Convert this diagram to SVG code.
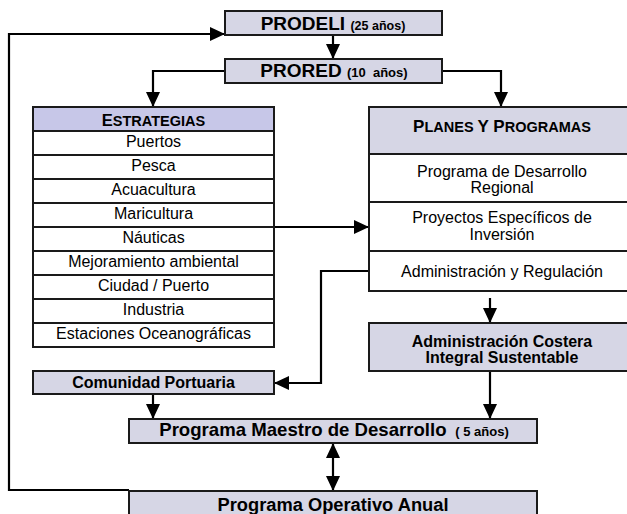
<svg xmlns="http://www.w3.org/2000/svg" width="627" height="514" viewBox="0 0 627 514">
<defs>
<marker id="ah" markerUnits="userSpaceOnUse" markerWidth="15" markerHeight="15" viewBox="0 0 15 14" refX="15" refY="7" orient="auto-start-reverse">
<path d="M0,0 L15,7 L0,14 Z" fill="#000"/>
</marker>
</defs>
<style>
.box{fill:#d6d6e5;stroke:#1a1a1a;stroke-width:2}
.hdr{fill:#c7c7e8;stroke:#1a1a1a;stroke-width:2}
.row{fill:#fff;stroke:#1a1a1a;stroke-width:2}
.wl{fill:none;stroke:#1a1a1a;stroke-width:2}
.t{font-family:"Liberation Sans",Arial,sans-serif;font-size:16px;fill:#000;text-anchor:middle}
.b{font-family:"Liberation Sans",Arial,sans-serif;font-weight:bold;fill:#000;text-anchor:middle}
.c{fill:none;stroke:#000;stroke-width:2.2}
</style>
<rect width="627" height="514" fill="#fff"/>

<g id="connectors">
<path class="c" d="M333,35 V59" marker-end="url(#ah)"/>
<path class="c" d="M129,490 H9 V34 H225" marker-end="url(#ah)"/>
<path class="c" d="M225,71 H153 V107" marker-end="url(#ah)"/>
<path class="c" d="M442,71 H501 V107" marker-end="url(#ah)"/>
<path class="c" d="M273,227 H369" marker-end="url(#ah)"/>
<path class="c" d="M369,271 H321 V383 H274" marker-end="url(#ah)"/>
<path class="c" d="M490,298 V323" marker-end="url(#ah)"/>
<path class="c" d="M153,394 V419" marker-end="url(#ah)"/>
<path class="c" d="M490,371 V419" marker-end="url(#ah)"/>
<path class="c" d="M333,443 V491" marker-start="url(#ah)" marker-end="url(#ah)"/>
</g>

<g id="prodeli">
<rect class="box" x="225" y="11" width="217" height="24"/>
<text class="b" x="333" y="30"><tspan font-size="19">PRODELI </tspan><tspan font-size="12.5">(25 años)</tspan></text>
</g>

<g id="prored">
<rect class="box" x="225" y="59" width="217" height="24"/>
<text class="b" x="334" y="77"><tspan font-size="19">PRORED </tspan><tspan font-size="13" xml:space="preserve">(10  años)</tspan></text>
</g>

<g id="estrategias">
<rect class="hdr" x="33" y="107" width="241" height="24"/>
<text class="b" x="153.5" y="126"><tspan font-size="16.5">E</tspan><tspan font-size="14.5">STRATEGIAS</tspan></text>
<rect class="row" x="33" y="131" width="241" height="24"/>
<text class="t" x="153.5" y="146.7">Puertos</text>
<rect class="row" x="33" y="155" width="241" height="24"/>
<text class="t" x="153.5" y="170.7">Pesca</text>
<rect class="row" x="33" y="179" width="241" height="24"/>
<text class="t" x="153.5" y="194.7">Acuacultura</text>
<rect class="row" x="33" y="203" width="241" height="24"/>
<text class="t" x="153.5" y="218.7">Maricultura</text>
<rect class="row" x="33" y="227" width="241" height="24"/>
<text class="t" x="153.5" y="242.7">Náuticas</text>
<rect class="row" x="33" y="251" width="241" height="24"/>
<text class="t" x="153.5" y="266.7">Mejoramiento ambiental</text>
<rect class="row" x="33" y="275" width="241" height="24"/>
<text class="t" x="153.5" y="290.7">Ciudad / Puerto</text>
<rect class="row" x="33" y="299" width="241" height="24"/>
<text class="t" x="153.5" y="314.7">Industria</text>
<rect class="row" x="33" y="323" width="241" height="24"/>
<text class="t" x="153.5" y="338.7">Estaciones Oceanográficas</text>
</g>

<g id="planes">
<rect class="box" x="369" y="107" width="266" height="47"/>
<text class="b" x="502" y="132"><tspan font-size="17">P</tspan><tspan font-size="14.5">LANES </tspan><tspan font-size="17">Y P</tspan><tspan font-size="14.5">ROGRAMAS</tspan></text>
<rect class="row" x="369" y="154" width="266" height="48"/>
<text class="t" x="502" y="176.5">Programa de Desarrollo</text>
<text class="t" x="502" y="193">Regional</text>
<rect class="row" x="369" y="202" width="266" height="49"/>
<text class="t" x="502" y="223.3">Proyectos Específicos de</text>
<text class="t" x="502" y="240">Inversión</text>
<rect class="row" x="369" y="251" width="266" height="40"/>
<text class="t" x="502" y="277">Administración y Regulación</text>
</g>

<g id="admin-costera">
<rect class="box" x="369" y="323" width="266" height="48"/>
<text class="b" x="502" y="346.7" font-size="16">Administración Costera</text>
<text class="b" x="502" y="363" font-size="16">Integral Sustentable</text>
</g>

<g id="comunidad">
<rect class="box" x="33" y="371" width="241" height="23"/>
<text class="b" x="153.5" y="387.5" font-size="16">Comunidad Portuaria</text>
</g>

<g id="maestro">
<rect class="box" x="129" y="419" width="408" height="24"/>
<text class="b" x="334" y="436"><tspan font-size="18.6">Programa Maestro de Desarrollo </tspan><tspan font-size="13" xml:space="preserve"> ( 5 años)</tspan></text>
</g>

<g id="poa">
<rect class="box" x="129" y="491" width="408" height="40"/>
<text class="b" x="333" y="511" font-size="18.3">Programa Operativo Anual</text>
</g>
</svg>
